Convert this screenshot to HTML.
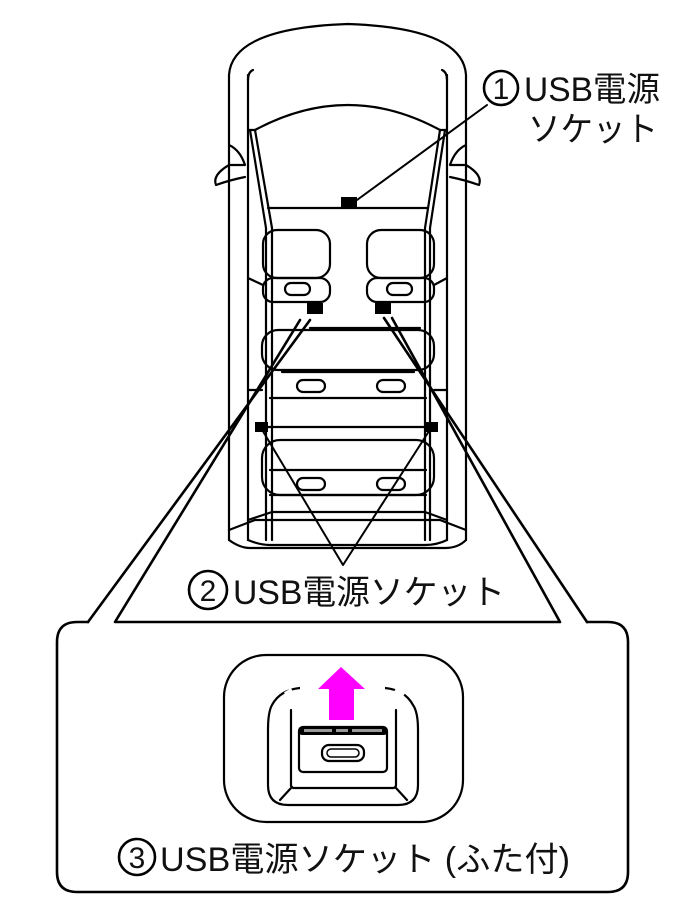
<!DOCTYPE html>
<html><head><meta charset="utf-8"><style>
html,body{margin:0;padding:0;background:#fff;}
svg{display:block;}
text{font-family:"Liberation Sans","Noto Sans CJK JP",sans-serif;fill:#111;}
</style></head><body>
<svg width="686" height="910" viewBox="0 0 686 910" xmlns="http://www.w3.org/2000/svg">
<g fill="none" stroke="#000" stroke-width="2.2" stroke-linejoin="round" stroke-linecap="round">
<path d="M229,540 L229,75 Q232,28 348,24 Q463,28 466,75 L466,540"/>
<path d="M248,540 L248,75"/>
<path d="M447,540 L447,75"/>
<path d="M253,70 Q248,72 248,80"/>
<path d="M442,70 Q447,72 447,80"/>
<path d="M255,130 Q348,80 440,130"/>
<path d="M248,130 L255,130 M447,130 L440,130"/>
<path d="M255,130 L272,228 L272,540"/>
<path d="M250,130 L266,228 L266,540"/>
<path d="M440,130 L425,228 L425,540"/>
<path d="M445,130 L430,228 L430,540"/>
<path d="M229,145 Q240,150 245,165 L229,165 Q212,175 216,185 Q230,180 245,177"/>
<path d="M466,145 Q455,150 450,165 L466,165 Q483,175 479,185 Q465,180 450,177"/>
<path d="M268,208 L428,208"/>
<rect x="263" y="230" width="67" height="48" rx="14"/>
<rect x="263" y="278" width="67" height="24" rx="10"/>
<rect x="285" y="283" width="25" height="12" rx="6"/>
<rect x="367" y="230" width="67" height="48" rx="14"/>
<rect x="367" y="278" width="67" height="24" rx="10"/>
<rect x="387" y="283" width="25" height="12" rx="6"/>
<path d="M248,278 L263,285 M447,278 L434,285"/>
<path d="M310,328 L420,328"/>
<rect x="262" y="330" width="172" height="40" rx="16"/>
<path d="M282,372 L414,372 M270,398 L426,398 M265,427 L430,427"/>
<rect x="297" y="380" width="28" height="12" rx="6"/>
<rect x="377" y="380" width="28" height="12" rx="6"/>
<path d="M248,390 L262,390 M447,390 L434,390"/>
<rect x="262" y="440" width="172" height="55" rx="18"/>
<path d="M270,470 L426,470 M270,495 L426,495"/>
<rect x="297" y="478" width="28" height="12" rx="6"/>
<rect x="377" y="478" width="28" height="12" rx="6"/>
<path d="M248,520 L272,512 L425,512 L447,520"/>
<path d="M229,530 L255,520 L440,520 L466,530"/>
<path d="M248,540 Q260,545 270,545 L425,545 Q437,545 447,540"/>
<path d="M229,540 Q240,548 250,548 L445,548 Q458,548 466,540"/>
<path d="M357,200 L487,105" stroke-width="2"/>
<path d="M261,428 L343,565 L431,428" stroke-width="2"/>
<path d="M300,320 L115,622 L560,622 L392,318" stroke-width="2.6"/>
<path d="M310,320 L88,622" stroke-width="2.6"/>
<path d="M384,318 L587,622" stroke-width="2.6"/>
<path d="M88,622 L77,622 Q57,622 57,642 L57,872 Q57,892 77,892 L608,892 Q628,892 628,872 L628,642 Q628,622 608,622 L587,622" stroke-width="2.6"/>
<rect x="224" y="655" width="239" height="167" rx="42"/>
<path d="M300,688 Q280,690 272,705 Q268,712 268,730 L268,785 Q268,805 288,805 L398,805 Q418,805 418,785 L418,730 Q418,712 413,705 Q405,690 385,688"/>
<path d="M291,710 L291,786 L293,788 L394,788 L396,786 L396,710"/>
<path d="M291,788 L280,800 M396,788 L407,800"/>
<rect x="299" y="727" width="88" height="45" rx="4"/>
<rect x="322" y="745" width="42" height="16" rx="7"/>
<rect x="327" y="749" width="32" height="8" rx="4" stroke-width="1.5"/>
</g>
<g stroke="#fff" stroke-width="4">
<path d="M300,688 L318,688 M366,688 L385,688"/>
<path d="M285,694 L292,690 M395,690 L404,695"/>
</g>
<g fill="#000">
<rect x="341" y="197" width="16" height="11"/>
<rect x="307" y="303" width="16" height="11"/>
<rect x="375" y="303" width="16" height="11"/>
<rect x="255" y="422" width="13" height="10"/>
<rect x="425" y="422" width="13" height="10"/>
<rect x="299" y="727" width="88" height="8" rx="3"/>
</g>
<rect x="304" y="729" width="28" height="3" fill="#999"/>
<rect x="336" y="729" width="12" height="3" fill="#999"/>
<rect x="352" y="729" width="30" height="3" fill="#999"/>
<path d="M318,689 L341,667 L365,689 L354,689 L354,720 L329,720 L329,689 Z" fill="#ff00ff"/>
<circle cx="501" cy="88" r="17" fill="none" stroke="#000" stroke-width="2.6"/>
<text x="501" y="99" font-size="30" text-anchor="middle">1</text>
<text x="524" y="101" font-size="34" textLength="136" lengthAdjust="spacingAndGlyphs">USB電源</text>
<text x="528" y="141" font-size="34" textLength="130" lengthAdjust="spacingAndGlyphs">ソケット</text>
<circle cx="208" cy="590" r="19" fill="none" stroke="#000" stroke-width="2.6"/>
<text x="208" y="601" font-size="30" text-anchor="middle">2</text>
<text x="233" y="604" font-size="34" textLength="272" lengthAdjust="spacingAndGlyphs">USB電源ソケット</text>
<circle cx="137" cy="857" r="18" fill="none" stroke="#000" stroke-width="2.6"/>
<text x="137" y="868" font-size="30" text-anchor="middle">3</text>
<text x="160" y="871" font-size="34" textLength="410" lengthAdjust="spacingAndGlyphs">USB電源ソケット (ふた付)</text>
</svg>
</body></html>
